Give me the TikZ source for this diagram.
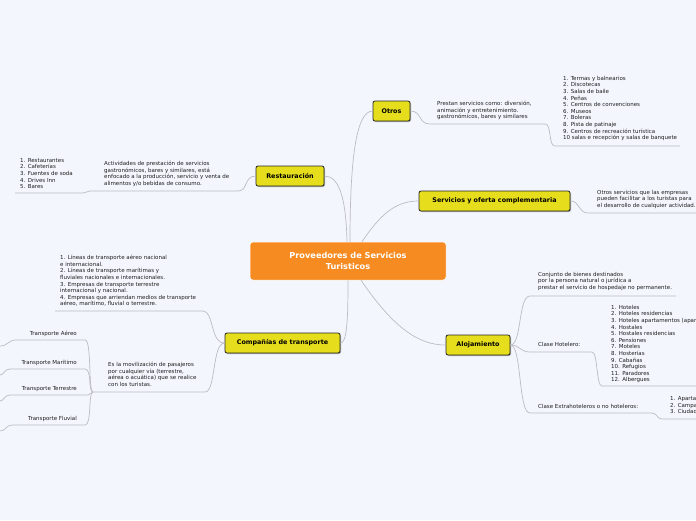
\documentclass[tikz,border=0pt]{standalone}
\usepackage{fontspec}
\setmainfont{DejaVu Sans}
\usetikzlibrary{shadows}
\definecolor{bg}{RGB}{243,246,253}
\definecolor{topicy}{RGB}{230,221,28}
\definecolor{orng}{RGB}{246,139,34}
\definecolor{lnk}{RGB}{188,188,196}
\definecolor{leaftxt}{RGB}{30,30,30}
\begin{document}
\begin{tikzpicture}[x=1pt,y=-1pt,
  topic/.style={draw=black!85, line width=0.8pt, fill=topicy, rounded corners=2pt,
    font=\fontsize{6.4}{7.5}\selectfont\bfseries, inner sep=0pt, minimum height=20pt,
    drop shadow={shadow xshift=1pt, shadow yshift=-1pt, fill=black!45, opacity=0.7}},
  rootbox/.style={draw=white, line width=0.5pt, fill=orng, rounded corners=3pt, text=white,
    font=\fontsize{8.2}{10.5}\selectfont\bfseries, align=center, minimum width=196pt, minimum height=38pt, inner sep=0pt},
  leaf/.style={font=\fontsize{5.5}{6.6}\selectfont, align=left, inner sep=0pt, text=leaftxt},
  lnkline/.style={draw=lnk, line width=0.7pt},
]
\fill[bg] (0,0) rectangle (696,520);
\clip (0,0) rectangle (696,520);

% main nodes
\node[rootbox] (root) at (348,261) {Proveedores de Servicios\\Turisticos};
\node[topic, minimum width=37pt] (otros) at (391.5,111) {Otros};
\node[topic, minimum width=68pt] (rest) at (290,176) {Restauración};
\node[topic, minimum width=151pt] (serv) at (494.5,201) {Servicios y oferta complementaria};
\node[topic, minimum width=115pt] (comp) at (282.5,343) {Compañías de transporte};
\node[topic, minimum width=64pt] (aloj) at (478,345) {Alojamiento};

% leaves
\node[leaf, anchor=north west] (otrosL) at (437,101) {Prestan servicios como: diversión,\\animación y entretenimiento.\\gastronómicos, bares y similares};
\node[leaf, anchor=north west] (otrosList) at (563,76) {1. Termas y balnearios\\2. Discotecas\\3. Salas de baile\\4. Peñas\\5. Centros de convenciones\\6. Museos\\7. Boleras\\8. Pista de patinaje\\9. Centros de recreación turística\\10 salas e recepción y salas de banquete};
\node[leaf, anchor=north west] (servL) at (597,190) {Otros servicios que las empresas\\pueden facilitar a los turistas para\\el desarrollo de cualquier actividad.};
\node[leaf, anchor=north west] (restL) at (104,161) {Actividades de prestación de servicios\\gastronómicos, bares y similares, está\\enfocado a la producción, servicio y venta de\\alimentos y/o bebidas de consumo.};
\node[leaf, anchor=north west] (restList) at (20,158) {1. Restaurantes\\2. Cafeterías\\3. Fuentes de soda\\4. Drives Inn\\5. Bares};
\node[leaf, anchor=north west] (compList) at (60,255) {1. Líneas de transporte aéreo nacional\\e internacional.\\2. Líneas de transporte marítimas y\\fluviales nacionales e internacionales.\\3. Empresas de transporte terrestre\\internacional y nacional.\\4. Empresas que arriendan medios de transporte\\aéreo, marítimo, fluvial o terrestre.};
\node[leaf, anchor=north west] (movL) at (108,362) {Es la movilización de pasajeros\\por cualquier vía (terrestre,\\aérea o acuática) que se realice\\con los turistas.};
\node[leaf, anchor=north east] (tAereo) at (77,331) {Transporte Aéreo};
\node[leaf, anchor=north east] (tMar) at (77,360) {Transporte Marítimo};
\node[leaf, anchor=north east] (tTer) at (77,386) {Transporte Terrestre};
\node[leaf, anchor=north east] (tFlu) at (77,416) {Transporte Fluvial};
\node[leaf, anchor=north west] (conjL) at (538,272) {Conjunto de bienes destinados\\por la persona natural o jurídica a\\prestar el servicio de hospedaje no permanente.};
\node[leaf, anchor=north west] (hotL) at (538,342) {Clase Hotelero:};
\node[leaf, anchor=north west] (hotList) at (611,305) {1. Hoteles\\2. Hoteles residencias\\3. Hoteles apartamentos (apartahoteles)\\4. Hostales\\5. Hostales residencias\\6. Pensiones\\7. Moteles\\8. Hosterías\\9. Cabañas\\10. Refugios\\11. Paradores\\12. Albergues};
\node[leaf, anchor=north west] (extL) at (538,404) {Clase Extrahoteleros o no hoteleros:};
\node[leaf, anchor=north west] (extList) at (670,396) {1. Apartamentos turísticos\\2. Campamentos de turismo\\3. Ciudades vacacionales};

% underline coordinates
\coordinate (u1a) at (430,124); \coordinate (u1b) at (545,124);
\coordinate (u2a) at (555,146); \coordinate (u2b) at (680,146);
\coordinate (u3a) at (588,213); \coordinate (u3b) at (696,213);
\coordinate (u4a) at (90,191);  \coordinate (u4b) at (238,191);
\coordinate (u5a) at (15,193);  \coordinate (u5b) at (83,193);
\coordinate (u6a) at (55,311);  \coordinate (u6b) at (203,311);
\coordinate (u7a) at (93,392);  \coordinate (u7b) at (205,392);
\coordinate (ta1) at (16,340);  \coordinate (ta2) at (85,340);
\coordinate (tm1) at (10,369);  \coordinate (tm2) at (85,369);
\coordinate (tt1) at (10,395);  \coordinate (tt2) at (88,395);
\coordinate (tf1) at (12,425);  \coordinate (tf2) at (85,425);
\coordinate (u8a) at (530,296); \coordinate (u8b) at (676,296);
\coordinate (u9a) at (530,352); \coordinate (u9b) at (592,352);
\coordinate (u10a) at (602,386); \coordinate (u10b) at (696,386);
\coordinate (u11a) at (530,413); \coordinate (u11b) at (652,413);
\coordinate (u12a) at (662,419); \coordinate (u12b) at (696,419);
\coordinate (ea) at (0,346); \coordinate (em) at (0,375); \coordinate (et) at (0,401); \coordinate (ef) at (0,431);

% root connectors
\path[lnkline] ([xshift=2pt]root.north) .. controls (350,160) and (356,111) .. (otros.west);
\path[lnkline] ([xshift=-1pt]root.north) .. controls (346,195) and (338,176) .. (rest.east);
\path[lnkline] ([xshift=14pt]root.north) .. controls (380,215) and (395,201) .. (serv.west);
\path[lnkline] (root.south) .. controls (348,320) and (347,343) .. (comp.east);
\path[lnkline] ([xshift=13pt]root.south) .. controls (395,330) and (420,345) .. (aloj.west);

% Otros branch
\path[lnkline] (otros.east) .. controls (422,111) and (418,124) .. (u1a) -- (u1b);
\path[lnkline] (u1b) .. controls (552,124) and (548,146) .. (u2a) -- (u2b);
% Servicios
\path[lnkline] (serv.east) .. controls (580,201) and (578,213) .. (u3a) -- (u3b);
% Restauracion
\path[lnkline] (rest.west) .. controls (244,176) and (248,191) .. (u4b) -- (u4a);
\path[lnkline] (u4a) .. controls (87,191) and (86,193) .. (u5b) -- (u5a);
% Companias
\path[lnkline] (comp.west) .. controls (210,343) and (214,311) .. (u6b) -- (u6a);
\path[lnkline] (comp.west) .. controls (212,343) and (216,392) .. (u7b) -- (u7a);
\path[lnkline] (u7a) .. controls (88,392) and (92,340) .. (ta2) -- (ta1) .. controls (8,340) and (8,346) .. (ea);
\path[lnkline] (u7a) .. controls (88,392) and (92,369) .. (tm2) -- (tm1) .. controls (4,369) and (4,375) .. (em);
\path[lnkline] (u7a) .. controls (90,392) and (91,395) .. (tt2) -- (tt1) .. controls (4,395) and (4,401) .. (et);
\path[lnkline] (u7a) .. controls (88,392) and (92,425) .. (tf2) -- (tf1) .. controls (6,425) and (6,431) .. (ef);
% Alojamiento
\path[lnkline] (aloj.east) .. controls (522,345) and (518,296) .. (u8a) -- (u8b);
\path[lnkline] (aloj.east) .. controls (520,345) and (520,352) .. (u9a) -- (u9b);
\path[lnkline] (u9b) .. controls (598,352) and (596,386) .. (u10a) -- (u10b);
\path[lnkline] (aloj.east) .. controls (522,345) and (518,413) .. (u11a) -- (u11b);
\path[lnkline] (u11b) .. controls (657,413) and (657,419) .. (u12a) -- (u12b);
\end{tikzpicture}
\end{document}
